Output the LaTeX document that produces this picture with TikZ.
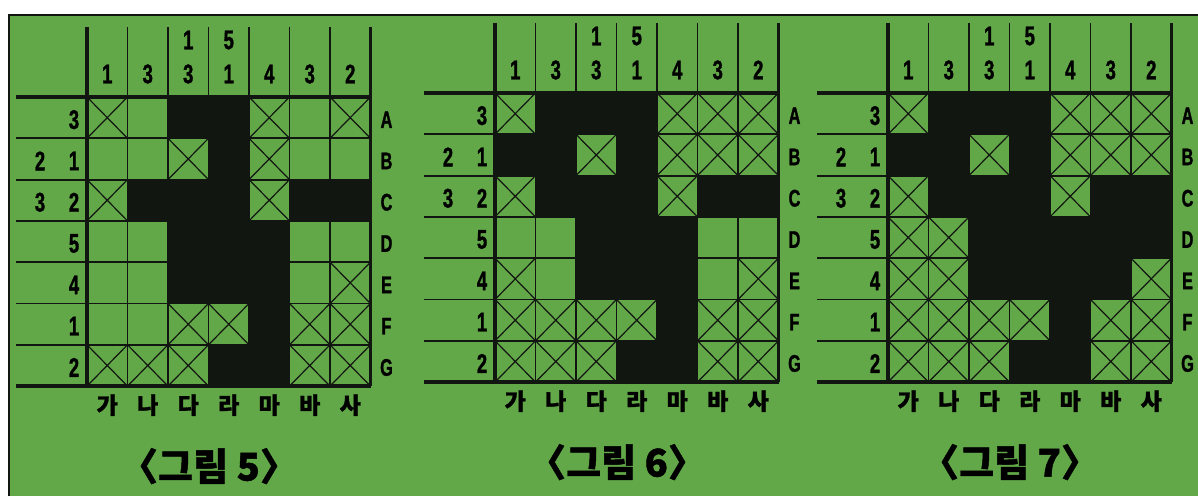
\documentclass[tikz,border=0pt]{standalone}
\usepackage{fontspec}
\usepackage{tikz}
\usetikzlibrary{positioning}
\newfontfamily\numfont[FakeStretch=0.68, FakeBold=1.2]{Liberation Sans}
\newfontfamily\korfont[FakeBold=1.2]{Noto Sans CJK KR}
\definecolor{boardgreen}{RGB}{98,168,72}
\definecolor{ink}{RGB}{18,22,16}

\def\cw{40.5}
\def\ch{41.3}

% one puzzle board: name, x, y of the grid corner, caption, cell rows
\newcommand{\nonogram}[5]{%
  \begin{scope}[shift={(#2,#3)}]
    % cells
    \foreach \cells [count=\rw from 0] in {#5} {
      \foreach \st [count=\ci from 0] in \cells {
        \ifnum\st=1 \fill[ink] (\ci*\cw,\rw*\ch) rectangle ++(\cw,\ch); \fi
        \ifnum\st=2 \draw[cross] (\ci*\cw,\rw*\ch) -- ++(\cw,\ch)
          (\ci*\cw+\cw,\rw*\ch) -- ++(-\cw,\ch); \fi
      }
    }
    % grid lines
    \foreach \i in {1,...,6} {
      \draw[thinline] (\i*\cw,-70) -- (\i*\cw,7*\ch);
      \draw[thinline] (-71,\i*\ch) -- (7*\cw,\i*\ch);
    }
    \foreach \i in {0,7} {
      \draw[thickline] (\i*\cw,-70) -- (\i*\cw,7*\ch);
      \draw[thickline] (-71,\i*\ch) -- (7*\cw,\i*\ch);
    }
    % column clues and names
    \foreach \num/\hname [count=\ci from 0] in {1/가,3/나,3/다,1/라,4/마,3/바,2/사} {
      \node[clue] (#1-col\ci) at (\ci*\cw+\cw/2,-23) {\num};
      \node[colname] (#1-name\ci) at (\ci*\cw+\cw/2,7*\ch+19) {\hname};
    }
    \node[clue] (#1-col2b) at (2.5*\cw,-57) {1};
    \node[clue] (#1-col3b) at (3.5*\cw,-57) {5};
    % row clues and letters
    \foreach \num/\lname [count=\rw from 0] in {3/A,1/B,2/C,5/D,4/E,1/F,2/G} {
      \node[clue] (#1-row\rw) at (-13,\rw*\ch+\ch/2+2) {\num};
      \node[rowname] (#1-letter\rw) at (7*\cw+16,\rw*\ch+\ch/2+2) {\lname};
    }
    \node[clue] (#1-row1b) at (-47,1.5*\ch+2) {2};
    \node[clue] (#1-row2b) at (-47,2.5*\ch+2) {3};
    \node[caption] (#1-caption) at (122,7*\ch+80) {〈그림 #4〉};
  \end{scope}}

\begin{document}
\begin{tikzpicture}[
    x=1pt, y=-1pt,
    thinline/.style={ink, line width=1.8pt},
    thickline/.style={ink, line width=3.6pt},
    cross/.style={ink, line width=1.2pt},
    clue/.style={font=\numfont\bfseries\fontsize{27}{27}\selectfont, inner sep=0pt},
    rowname/.style={font=\numfont\bfseries\fontsize{24}{24}\selectfont, inner sep=0pt},
    colname/.style={font=\korfont\bfseries\fontsize{23}{23}\selectfont, inner sep=0pt},
    caption/.style={font=\korfont\bfseries\fontsize{38}{38}\selectfont, inner sep=0pt}
]
\useasboundingbox (0,0) rectangle (1198,496);

% board background
\fill[white] (0,0) rectangle (1198,496);
\fill[boardgreen] (9,15) rectangle (1198,496);
\draw[ink, line width=2pt] (9,496) -- (9,15) -- (1198,15);

\nonogram{first}{87}{97}{5}{
  {2,0,1,1,2,0,2},{0,0,2,1,2,0,0},{2,1,1,1,2,1,1},{0,0,1,1,1,0,0},
  {0,0,1,1,1,0,2},{0,0,2,2,1,2,2},{2,2,2,1,1,2,2}}
\nonogram{second}{495}{93}{6}{
  {2,1,1,1,2,2,2},{1,1,2,1,2,2,2},{2,1,1,1,2,1,1},{0,0,1,1,1,0,0},
  {2,0,1,1,1,0,2},{2,2,2,2,1,2,2},{2,2,2,1,1,2,2}}
\nonogram{third}{888}{93}{7}{
  {2,1,1,1,2,2,2},{1,1,2,1,2,2,2},{2,1,1,1,2,1,1},{2,2,1,1,1,1,1},
  {2,2,1,1,1,1,2},{2,2,2,2,1,2,2},{2,2,2,1,1,2,2}}

\end{tikzpicture}
\end{document}
